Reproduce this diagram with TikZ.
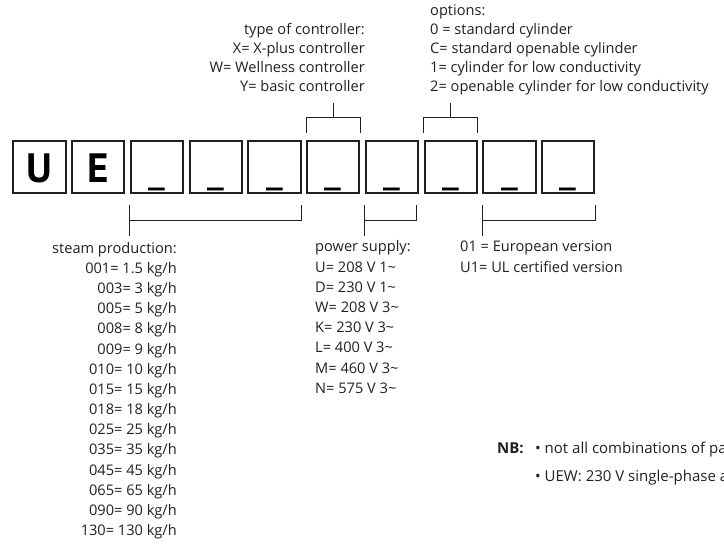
\documentclass[tikz,border=0pt]{standalone}
\usepackage{fontspec}
\setmainfont{Open Sans}
\newfontfamily\boxfont{PT Sans}
\usetikzlibrary{positioning, calc}
\definecolor{inkBlack}{RGB}{35, 31, 32}

\tikzset{
  digit/.style={draw=inkBlack, line width=2pt, minimum width=52.4pt, minimum height=52pt,
    inner sep=0pt, text height=42pt, text depth=10pt, text=black,
    font=\boxfont\fontsize{41}{41}\selectfont},
  bracket/.style={draw=inkBlack, line width=1pt},
  toplist/.style={inner sep=0pt, text=inkBlack, font=\fontsize{14.6}{19}\selectfont},
  botlist/.style={inner sep=0pt, text=inkBlack, font=\fontsize{14.6}{20.2}\selectfont},
}

\begin{document}
\begin{tikzpicture}[x=1pt, y=1pt, node distance=4.35pt]
  \useasboundingbox (0,0) rectangle (724,-545);

  % code boxes
  \node[digit] (u) at (39.5,-167) {\bfseries U};
  \node[digit, right=of u] (e) {\bfseries E};
  \node[digit, right=of e] (s1) {\_};
  \node[digit, right=of s1] (s2) {\_};
  \node[digit, right=of s2] (s3) {\_};
  \node[digit, right=of s3] (ctrl) {\_};
  \node[digit, right=of ctrl] (pwr) {\_};
  \node[digit, right=of pwr] (opt) {\_};
  \node[digit, right=of opt] (v1) {\_};
  \node[digit, right=of v1] (v2) {\_};

  % labels above
  \node[toplist, align=right, anchor=base east] (ctrllabel) at (365,-91.5)
    {type of controller:\\X= X-plus controller\\W= Wellness controller\\Y= basic controller};
  \node[toplist, align=left, anchor=base west] (optlabel) at (430,-92)
    {options:\\0 = standard cylinder\\C= standard openable cylinder\\1= cylinder for low conductivity\\2= openable cylinder for low conductivity};

  % labels below
  \node[botlist, align=right, anchor=base east] (steamlabel) at (177,-535.8)
    {steam production:\\001= 1.5 kg/h\\003= 3 kg/h\\005= 5 kg/h\\008= 8 kg/h\\009= 9 kg/h\\010= 10 kg/h\\015= 15 kg/h\\018= 18 kg/h\\025= 25 kg/h\\035= 35 kg/h\\045= 45 kg/h\\065= 65 kg/h\\090= 90 kg/h\\130= 130 kg/h};
  \node[botlist, align=left, anchor=base west] (pwrlabel) at (315,-393.4)
    {power supply:\\U= 208 V 1\textasciitilde\\D= 230 V 1\textasciitilde\\W= 208 V 3\textasciitilde\\K= 230 V 3\textasciitilde\\L= 400 V 3\textasciitilde\\M= 460 V 3\textasciitilde\\N= 575 V 3\textasciitilde};
  \node[botlist, align=left, anchor=base west] (verlabel) at (460,-272.2)
    {01 = European version\\U1= UL certified version};

  % note
  \node[inner sep=0pt, anchor=base west, text=inkBlack, font=\fontsize{15}{28}\selectfont\bfseries] (nb) at (497,-454) {NB:};
  \node[inner sep=0pt, anchor=base west, align=left, text=inkBlack, font=\fontsize{15}{28}\selectfont] (nbtext) at (535,-482)
    {\textbullet\ not all combinations of pa\\\textbullet\ UEW: 230 V single-phase a};

  % brackets above
  \coordinate (ctrltop) at ([yshift=37pt]ctrl.north);
  \draw[bracket] ([yshift=7pt]ctrl.north west) -- ++(0,15) -| ([yshift=7pt]ctrl.north east);
  \draw[bracket] ([yshift=22pt]ctrl.north) -- (ctrltop);
  \coordinate (opttop) at ([yshift=37pt]opt.north);
  \draw[bracket] ([yshift=7pt]opt.north west) -- ++(0,15) -| ([yshift=7pt]opt.north east);
  \draw[bracket] ([yshift=22pt]opt.north) -- (opttop);

  % brackets below
  \draw[bracket] ([yshift=-11pt]s1.south west) -- ([yshift=-42pt]s1.south west);
  \draw[bracket] ([yshift=-27pt]s1.south west) -| ([yshift=-11pt]s3.south east);
  \draw[bracket] ([yshift=-11pt]pwr.south west) -- ([yshift=-42pt]pwr.south west);
  \draw[bracket] ([yshift=-27pt]pwr.south west) -| ([xshift=-3pt, yshift=-11pt]pwr.south east);
  \draw[bracket] ([yshift=-11pt]v1.south west) -- ([yshift=-42pt]v1.south west);
  \draw[bracket] ([yshift=-27pt]v1.south west) -| ([yshift=-11pt]v2.south east);
\end{tikzpicture}
\end{document}
